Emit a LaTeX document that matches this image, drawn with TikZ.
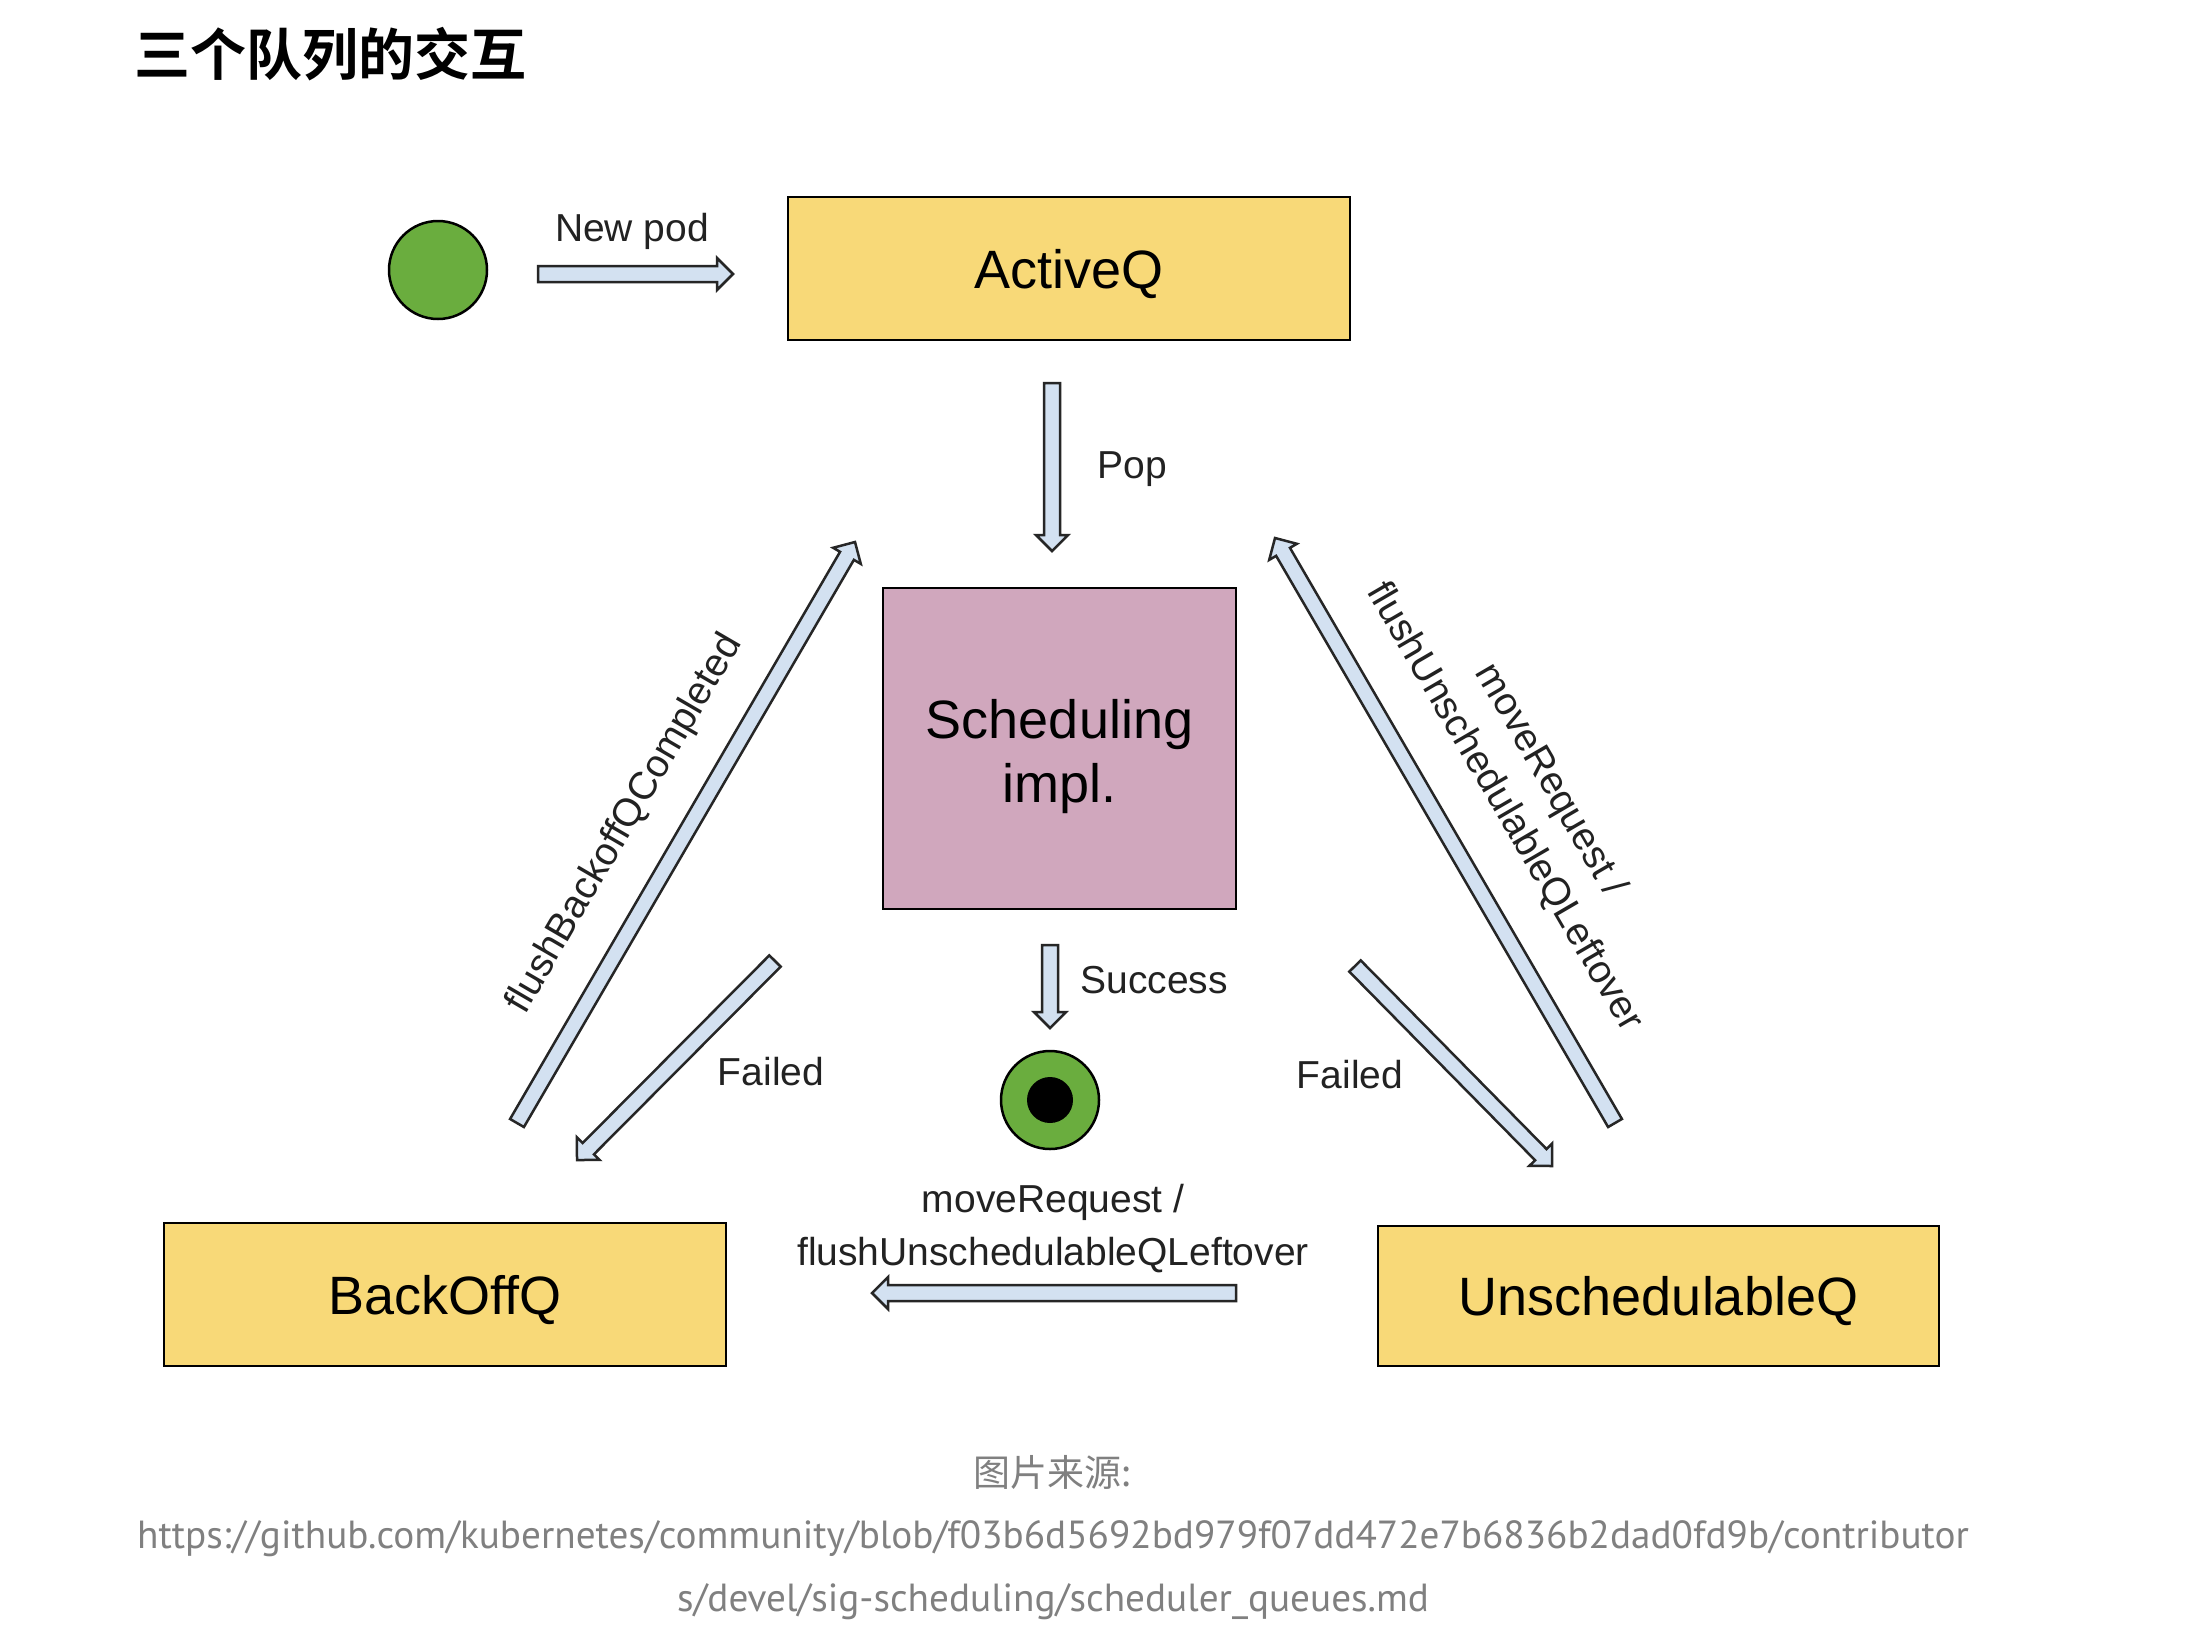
\documentclass[tikz,border=0pt]{standalone}
\usepackage{fontspec}
\setmainfont{Liberation Sans}
\newfontfamily\cjk{Noto Sans CJK SC}[BoldFont={Noto Sans CJK SC Bold}]
\newfontfamily\capfont{PT Sans}
\usetikzlibrary{calc}
\definecolor{qyellow}{HTML}{F8D978}
\definecolor{spink}{HTML}{D0A7BD}
\definecolor{pgreen}{HTML}{6AAD3E}
\definecolor{afill}{HTML}{D3E1F1}
\definecolor{labelc}{HTML}{222222}
\definecolor{capc}{HTML}{808080}
\newcommand\blockarrow[2]{%
  \coordinate (#1h) at ($(#2)!16pt!(#1)$);
  \filldraw[barrow]
    ($(#1)!8pt!90:(#2)$) --
    ($(#1h)!8pt!-90:(#1)$) --
    ($(#1h)!16pt!-90:(#1)$) --
    (#2) --
    ($(#1h)!16pt!90:(#1)$) --
    ($(#1h)!8pt!90:(#1)$) --
    ($(#1)!8pt!-90:(#2)$) -- cycle;
}
\begin{document}
\begin{tikzpicture}[x=1pt,y=-1pt,
  queue/.style={draw=black,line width=2.5pt,fill=qyellow,minimum width=562pt,minimum height=143pt,inner sep=0pt,text height=39pt,text depth=0pt,font=\fontsize{54}{60}\selectfont},
  schedbox/.style={draw=black,line width=2.5pt,fill=spink,minimum width=353pt,minimum height=321pt,inner sep=0pt,align=center,text height=108pt,text depth=0pt,font=\fontsize{54}{64}\selectfont},
  dot/.style={circle,draw=black,line width=2.5pt,fill=pgreen,minimum size=98pt,inner sep=0pt},
  lbl/.style={text=labelc,font=\fontsize{39}{53}\selectfont,inner sep=0pt,align=center},
  barrow/.style={fill=afill,draw=black!85,line width=2.5pt,line join=miter},
  captxt/.style={text=capc,inner sep=0pt,font=\capfont\fontsize{39.2}{48}\selectfont}]
\useasboundingbox (0,0) rectangle (2202,1644);
\fill[white] (0,0) rectangle (2202,1644);

\node[anchor=west,inner sep=0pt,font=\cjk\bfseries\fontsize{56}{60}\selectfont] (title) at (134,54) {三个队列的交互};

% nodes
\node[dot] (start) at (438,270) {};
\node[queue] (active) at (1069,268.5) {ActiveQ};
\node[schedbox] (sched) at (1059.5,748.5) {Scheduling\\impl.};
\node[dot] (end) at (1050,1100) {};
\node[circle,fill=black,minimum size=46pt,inner sep=0pt] (endin) at (end.center) {};
\node[queue] (backoff) at (445,1294.5) {BackOffQ};
\node[queue,minimum width=561pt,minimum height=140pt] (unsched) at (1658.5,1296) {UnschedulableQ};

% arrow end points
\coordinate (np1) at (538,274);  \coordinate (np2) at (733,274);
\coordinate (pop1) at (1052,383); \coordinate (pop2) at (1052,551);
\coordinate (suc1) at (1050,945); \coordinate (suc2) at (1050,1028);
\coordinate (fb1) at (517,1123); \coordinate (fb2) at (855,542);
\coordinate (fl1) at (775,961); \coordinate (fl2) at (577,1160);
\coordinate (mr1) at (1615,1123); \coordinate (mr2) at (1275,538);
\coordinate (fr1) at (1355,966); \coordinate (fr2) at (1552,1166);
\coordinate (bt1) at (1236,1293); \coordinate (bt2) at (872,1293);

\blockarrow{np1}{np2}
\blockarrow{pop1}{pop2}
\blockarrow{suc1}{suc2}
\blockarrow{fb1}{fb2}
\blockarrow{fl1}{fl2}
\blockarrow{mr1}{mr2}
\blockarrow{fr1}{fr2}
\blockarrow{bt1}{bt2}

% labels
\node[lbl] (lnew) at (632,231) {New pod};
\node[lbl] (lpop) at (1132,469) {Pop};
\node[lbl] (lsuc) at (1154,980) {Success};
\node[lbl,rotate=59.8] (lfb) at (625,824) {flushBackoffQCompleted};
\node[lbl] (lfl) at (771,1072) {Failed};
\node[lbl] (lfr) at (1350,1075) {Failed};
\node[lbl,rotate=-59.8] (lmr) at (1527,794) {moveRequest /\\flushUnschedulableQLeftover};
\node[lbl] (lbt) at (1053,1229) {moveRequest /\\flushUnschedulableQLeftover};

% caption
\node[captxt,font=\cjk\fontsize{37}{44}\selectfont] (c1) at (1053,1472) {图片来源:};
\node[captxt] (c2) at (1053,1539) {https://github.com/kubernetes/community/blob/f03b6d5692bd979f07dd472e7b6836b2dad0fd9b/contributor};
\node[captxt] (c3) at (1053,1602) {s/devel/sig-scheduling/scheduler\_queues.md};
\end{tikzpicture}
\end{document}
